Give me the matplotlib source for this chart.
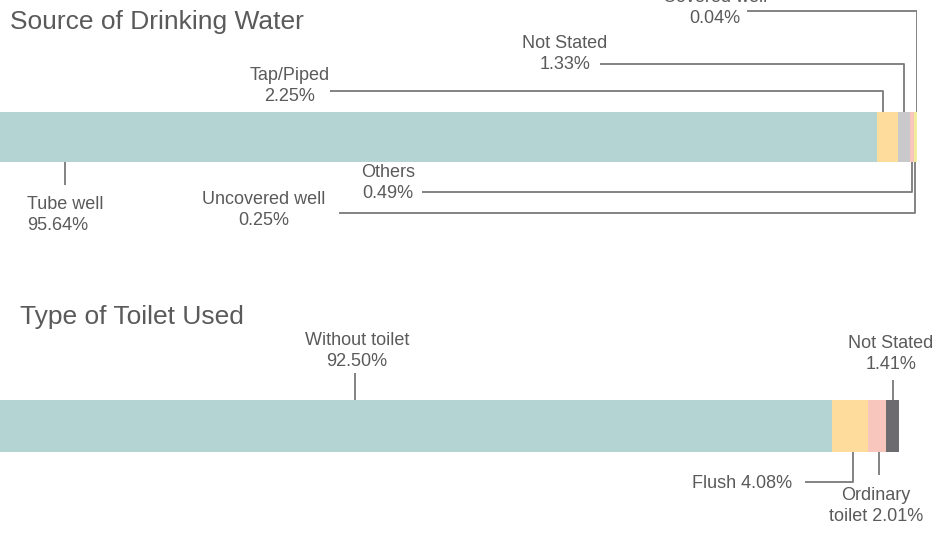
import numpy as np
import matplotlib.pyplot as plt

plt.rcParams['font.family'] = ['Liberation Sans', 'DejaVu Sans']

W, H = 944, 534

# data
water_labels = ["Tube well", "Tap/Piped", "Not Stated", "Others", "Uncovered well", "Covered well"]
water_values = [95.64, 2.25, 1.33, 0.49, 0.25, 0.04]
water_colors = ["#b4d3d3", "#fddc9c", "#c9c9cb", "#f8c6bd", "#f3ec9c", "#e9dc9a"]

toilet_labels = ["Without toilet", "Flush", "Ordinary toilet", "Not Stated"]
toilet_values = [92.50, 4.08, 2.01, 1.41]
toilet_colors = ["#b4d3d3", "#fddc9c", "#f8c6bd", "#6c6c70"]

TEXT = "#5a5a5a"
LINE = "#7a7a7a"

# label layout in pixels: text, text x, text y, ha, elbow y, line end x, anchor px override
water_layout = {
    "Tube well":      ("Tube well\n95.64%", 27, 215, "left", 185, None, 65),
    "Tap/Piped":      ("Tap/Piped\n2.25%", 290, 86, "center", 91, 330, 883),
    "Not Stated":     ("Not Stated\n1.33%", 565, 54, "center", 64, 600, None),
    "Others":         ("Others\n0.49%", 388, 183, "center", 192, 422, None),
    "Uncovered well": ("Uncovered well\n0.25%", 264, 210, "center", 213, 339, None),
    "Covered well":   ("Covered well\n0.04%", 715, 8, "center", 11, 747, None),
}
toilet_layout = {
    "Without toilet":  ("Without toilet\n92.50%", 357, 351, "center", 373, None, 355),
    "Flush":           ("Flush 4.08%", 792, 483, "right", 482, 805, 853),
    "Ordinary toilet": ("Ordinary\ntoilet 2.01%", 876, 506, "center", 475, None, 879),
    "Not Stated":      ("Not Stated\n1.41%", 891, 354, "center", 380, None, None),
}


def draw_bar(ax, width_px, labels, values, colors, layout, y0, y1):
    ax.set_xlim(0, 100)
    ax.set_ylim(H, 0)
    ax.axis('off')
    sx = 100.0 / width_px
    lefts = np.concatenate([[0], np.cumsum(values)[:-1]])
    ax.barh((y0 + y1) / 2, values, left=lefts, height=y1 - y0,
            color=colors, linewidth=0)
    for lab, left, val in zip(labels, lefts, values):
        text, tx, ty, ha, ey, lx, apx = layout[lab]
        ax_x = apx * sx if apx is not None else left + val / 2
        edge = y0 if ey < y0 else y1
        xs, ys = [ax_x, ax_x], [edge, ey]
        if lx is not None:
            xs.append(lx * sx)
            ys.append(ey)
        ax.plot(xs, ys, color=LINE, lw=1.3, solid_capstyle='butt')
        ax.text(tx * sx, ty, text, ha=ha, va='center', multialignment=ha,
                fontsize=13, color=TEXT, linespacing=1.37)


fig = plt.figure(figsize=(W / 100, H / 100), dpi=100)
ax1 = fig.add_axes([0, 0, 917 / W, 1])
ax1.patch.set_alpha(0)
draw_bar(ax1, 917, water_labels, water_values, water_colors, water_layout, 112, 162)

ax2 = fig.add_axes([0, 0, 899 / W, 1])
ax2.patch.set_alpha(0)
draw_bar(ax2, 899, toilet_labels, toilet_values, toilet_colors, toilet_layout, 400, 452)

fig.text(10 / W, 1 - 22 / H, "Source of Drinking Water", fontsize=19, color=TEXT,
         ha='left', va='center')
fig.text(20 / W, 1 - 317 / H, "Type of Toilet Used", fontsize=19, color=TEXT,
         ha='left', va='center')

fig.savefig("out.png", dpi=100)
